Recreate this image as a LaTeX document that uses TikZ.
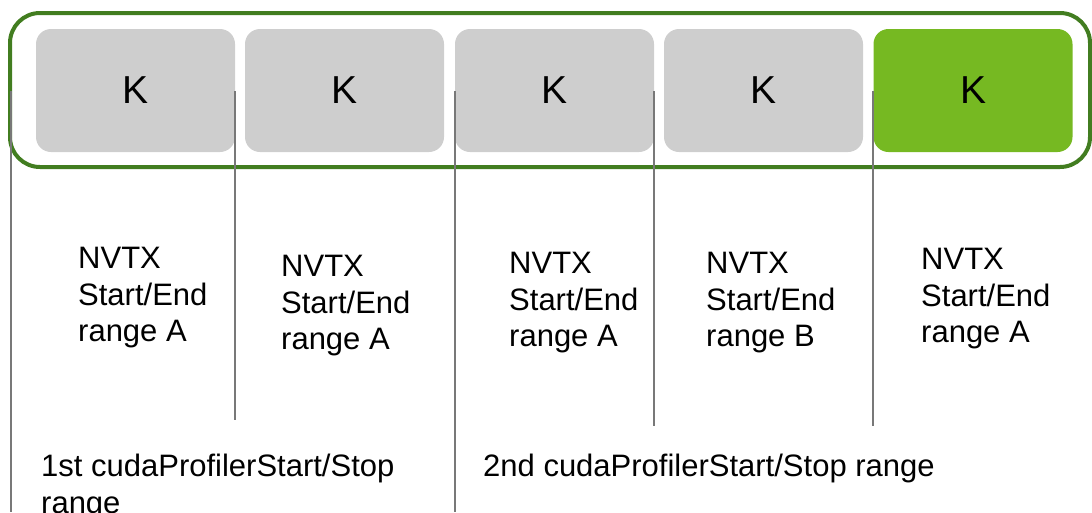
\documentclass[tikz,border=0pt]{standalone}
\usepackage{fontspec}
\setmainfont{Liberation Sans}
\usepackage{tikz}
\definecolor{nvgreen}{RGB}{118,185,34}
\definecolor{framegreen}{RGB}{66,125,32}
\definecolor{kgray}{RGB}{206,206,206}
\definecolor{linegray}{RGB}{120,120,120}
\tikzset{
  kbox/.style={rounded corners=15pt, minimum width=199pt, minimum height=123pt, inner sep=0pt, font=\fontsize{39}{46}\selectfont},
  rangeline/.style={draw=linegray, line width=2pt},
  lbl/.style={anchor=north west, align=left, inner sep=0pt, font=\fontsize{31}{36.5}\selectfont}
}

\begin{document}
\begin{tikzpicture}[x=1pt,y=-1pt]
\useasboundingbox (0,0) rectangle (1092,512);
\draw[framegreen, line width=4pt, rounded corners=30pt] (10,13) rectangle (1090,167);
\foreach \i/\x in {1/36,2/245,3/455,4/664} \node[kbox, fill=kgray] (k\i) at (\x+99.5, 90.5) {K};
\node[kbox, fill=nvgreen] (k5) at (973, 90.5) {K};
\foreach \i/\x/\yb in {1/11/512,2/235/420,3/455/512,4/654/426,5/873/426} {
  \coordinate (t\i) at (\x,91);
  \coordinate (b\i) at (\x,\yb);
  \draw[rangeline] (t\i) -- (b\i);
}
\node[lbl] (n1) at (78,247) {NVTX\\Start/End\\range A};
\node[lbl] (n2) at (281,255) {NVTX\\Start/End\\range A};
\node[lbl] (n3) at (509,252) {NVTX\\Start/End\\range A};
\node[lbl] (n4) at (706,252) {NVTX\\Start/End\\range B};
\node[lbl] (n5) at (921,248) {NVTX\\Start/End\\range A};
\node[lbl] (p1) at (41,454) {1st cudaProfilerStart/Stop\\range};
\node[lbl] (p2) at (483,454) {2nd cudaProfilerStart/Stop range};
\end{tikzpicture}
\end{document}
